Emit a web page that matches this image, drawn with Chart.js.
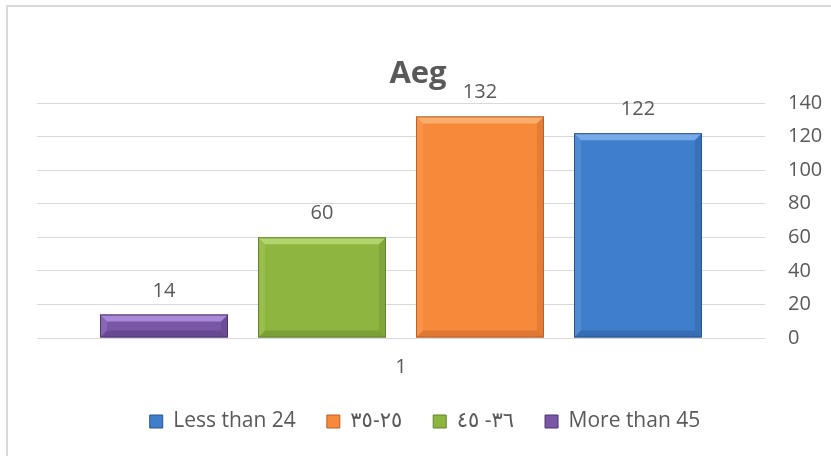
<!DOCTYPE html>
<html>
<head>
<meta charset="utf-8">
<script src="https://cdn.jsdelivr.net/npm/chart.js@4.4.1/dist/chart.umd.min.js"></script>
<style>
  html, body { margin: 0; padding: 0; background: #fff; overflow: hidden; }
  #wrap { position: relative; width: 831px; height: 456px; overflow: hidden; }
  .frame { position: absolute; left: 6px; top: 5px; width: 1000px; height: 1000px; border: 2px solid #d9d9d9; }
  canvas { position: absolute; left: 0; top: 0; }
</style>
</head>
<body>
<div id="wrap">
  <div class="frame"></div>
  <canvas id="ageChart" width="831" height="456"></canvas>
</div>
<script>
// 年齡分組 (畫面由左至右)
const chartTitle = 'Aeg';
const categories = ['1'];
const groupNames = ['More than 45', '٣٦- ٤٥', '٢٥-٣٥', 'Less than 24'];
const groupCounts = [14, 60, 132, 122];
const yTicks = [0, 20, 40, 60, 80, 100, 120, 140];

const faceColors = ['#7a56a6', '#8db53f', '#f6893a', '#3f7ecb'];
const lightColors = ['#a98ad6', '#b2d46c', '#fbae6c', '#78a9e8'];
const darkColors = ['#4e3473', '#62842a', '#bd5f28', '#2a5490'];

const textColor = '#595959';
const fontFamily = "'Open Sans', 'DejaVu Sans', sans-serif";

// 立體斜角效果 + 陰影
const bevelPlugin = {
    id: 'bevel',
    beforeDatasetsDraw(chart) {
        const ctx = chart.ctx;
        ctx.save();
        ctx.shadowColor = 'rgba(0,0,0,0.35)';
        ctx.shadowBlur = 5;
        ctx.shadowOffsetY = 2;
    },
    afterDatasetsDraw(chart) {
        const ctx = chart.ctx;
        ctx.restore();
        chart.data.datasets.forEach((ds, i) => {
            const meta = chart.getDatasetMeta(i);
            meta.data.forEach(bar => {
                const p = bar.getProps(['x', 'y', 'base', 'width'], true);
                const l = p.x - p.width / 2, r = p.x + p.width / 2;
                const t = Math.min(p.y, p.base), b = Math.max(p.y, p.base);
                const e = Math.min(7, (b - t) / 2);
                const poly = (pts, color) => {
                    ctx.beginPath();
                    ctx.moveTo(pts[0][0], pts[0][1]);
                    pts.slice(1).forEach(q => ctx.lineTo(q[0], q[1]));
                    ctx.closePath();
                    ctx.fillStyle = color;
                    ctx.fill();
                };
                ctx.save();
                // 上緣亮面
                poly([[l, t], [r, t], [r - e, t + e], [l + e, t + e]], lightColors[i]);
                // 左右側與底部
                ctx.globalAlpha = 0.3;
                poly([[l, t], [l + e, t + e], [l + e, b - e], [l, b]], lightColors[i]);
                poly([[r, t], [r - e, t + e], [r - e, b - e], [r, b]], darkColors[i]);
                ctx.globalAlpha = 0.4;
                poly([[l, b], [l + e, b - e], [r - e, b - e], [r, b]], darkColors[i]);
                ctx.globalAlpha = 1;
                ctx.strokeStyle = darkColors[i];
                ctx.lineWidth = 1;
                ctx.strokeRect(l + 0.5, t + 0.5, r - l - 1, b - t - 1);
                ctx.restore();
            });
        });
    }
};

// 標題與數值標籤
const labelPlugin = {
    id: 'labels',
    afterLayout(chart) {
        // 圖例往左移一點, 對齊整個圖框中央
        chart.legend.left -= 9;
        chart.legend.right -= 9;
    },
    afterDraw(chart) {
        const ctx = chart.ctx;
        ctx.save();
        ctx.fillStyle = textColor;
        ctx.textAlign = 'center';
        ctx.textBaseline = 'middle';
        ctx.font = 'bold 31px ' + fontFamily;
        ctx.fillText(chartTitle, 418, 74);

        ctx.font = '20px ' + fontFamily;
        ctx.textBaseline = 'alphabetic';
        chart.data.datasets.forEach((ds, i) => {
            const meta = chart.getDatasetMeta(i);
            meta.data.forEach((bar, j) => {
                ctx.fillText(String(ds.data[j]), bar.x, bar.y - 18);
            });
        });
        ctx.restore();
    }
};

const chartData = {
    labels: categories,
    datasets: groupNames.map((name, i) => ({
        label: name,
        data: [groupCounts[i]],
        backgroundColor: faceColors[i],
        borderColor: darkColors[i],
        borderWidth: 1
    }))
};

const chartOption = {
    responsive: false,
    animation: false,
    layout: { padding: { left: 37, right: 0, top: 103, bottom: 14 } },
    datasets: {
        bar: { categoryPercentage: 0.868, barPercentage: 0.81 }
    },
    plugins: {
        title: { display: false },
        legend: {
            position: 'bottom',
            reverse: true,
            labels: {
                boxWidth: 13,
                boxHeight: 13,
                color: textColor,
                font: { family: fontFamily, size: 21 },
                padding: 31
            }
        },
        tooltip: { enabled: false }
    },
    scales: {
        x: {
            grid: { display: false, drawTicks: false },
            border: { display: false },
            afterFit: s => { s.height = 42; },
            ticks: { color: textColor, font: { family: fontFamily, size: 20 }, padding: 17 }
        },
        y: {
            position: 'right',
            min: 0,
            max: 140,
            afterBuildTicks: s => { s.ticks = yTicks.map(v => ({ value: v })); },
            afterFit: s => { s.width = 66; },
            grid: { color: '#d9d9d9', drawTicks: false },
            border: { display: false },
            ticks: { color: textColor, font: { family: fontFamily, size: 20 }, padding: 23 }
        }
    }
};

new Chart(document.getElementById('ageChart'), {
    type: 'bar',
    data: chartData,
    options: chartOption,
    plugins: [bevelPlugin, labelPlugin]
});
</script>
</body>
</html>
